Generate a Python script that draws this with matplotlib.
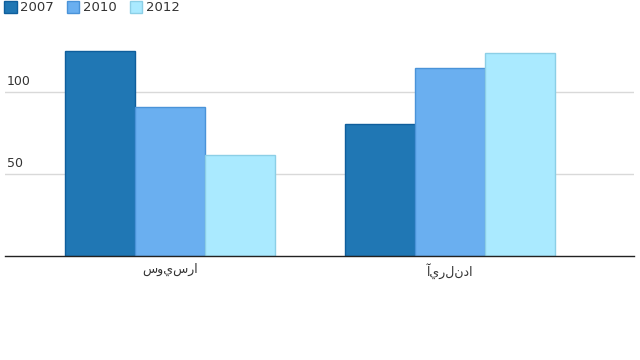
import matplotlib
matplotlib.use("Agg")
import matplotlib.pyplot as plt
from matplotlib.patches import Patch
import numpy as np

categories = ["سويسرا", "آيرلندا"]
years = ["2007", "2010", "2012"]
values_2007 = [124.7, 80.2]
values_2010 = [90.5, 114.3]
values_2012 = [61.3, 123.5]
yticks = [50, 100]

series = [values_2007, values_2010, values_2012]
fills = ["#2077b4", "#6aaff0", "#aaeaff"]
edges = ["#0f5e9c", "#4a93d8", "#8ccfe6"]

plt.rcParams["font.family"] = ["DejaVu Sans"]
fig = plt.figure(figsize=(6.4, 3.6), dpi=100)
W, H = 640, 360
left, right, base, top = 5, 634, 256, 26
ax = fig.add_axes([left / W, (H - base) / H, (right - left) / W, (base - top) / H])

x = np.arange(len(categories))
width = 0.25
for i, (vals, fc, ec) in enumerate(zip(series, fills, edges)):
    ax.bar(x + (i - 1) * width, vals, width, color=fc, edgecolor=ec, linewidth=1, zorder=3)

ax.set_xlim(-0.589, 1.657)
ax.set_ylim(0, 140)
for s in ["top", "right", "left"]:
    ax.spines[s].set_visible(False)
ax.spines["bottom"].set_color("#222222")
ax.spines["bottom"].set_linewidth(1)
ax.spines["bottom"].set_zorder(4)
ax.set_yticks(yticks)
ax.yaxis.grid(True, color="#d9d9d9", linewidth=1)
ax.set_axisbelow(True)
ax.tick_params(axis="y", length=0, labelleft=False)
for v in yticks:
    ax.annotate(str(v), xy=(0, v), xycoords=("axes fraction", "data"),
                xytext=(1.3, 2.5), textcoords="offset points", ha="left", va="bottom",
                fontsize=9, color="#333333")
ax.set_xticks(x)
ax.set_xticklabels(categories, fontsize=9, color="#333333")
ax.tick_params(axis="x", length=0, pad=5)

handles = [Patch(facecolor=fc, edgecolor=ec) for fc, ec in zip(fills, edges)]
fig.legend(handles, years, loc="upper left", bbox_to_anchor=(4 / W, 1 - 1 / H),
           ncol=3, frameon=False, fontsize=9.5, handlelength=0.95, handleheight=1.0,
           handletextpad=0.3, columnspacing=0.95, borderpad=0, borderaxespad=0,
           labelcolor="#333333")

fig.savefig("out.png", dpi=100)
